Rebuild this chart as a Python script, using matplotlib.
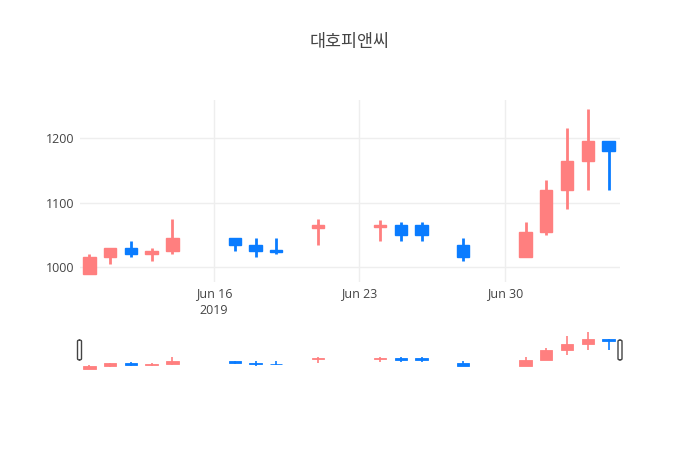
import numpy as np
import matplotlib
matplotlib.use("Agg")
import matplotlib.pyplot as plt
import matplotlib.dates as mdates
from matplotlib.patches import FancyBboxPatch

plt.rcParams["font.family"] = ["Open Sans", "Noto Sans CJK KR", "DejaVu Sans"]

# daily prices
dates = ["2019-06-10", "2019-06-11", "2019-06-12", "2019-06-13", "2019-06-14",
         "2019-06-17", "2019-06-18", "2019-06-19", "2019-06-21",
         "2019-06-24", "2019-06-25", "2019-06-26", "2019-06-28",
         "2019-07-01", "2019-07-02", "2019-07-03", "2019-07-04", "2019-07-05"]
opens  = [990, 1015, 1030, 1020, 1025, 1045, 1035, 1026, 1060,
          1062, 1065, 1065, 1035, 1015, 1055, 1120, 1165, 1195]
highs  = [1020, 1030, 1040, 1030, 1075, 1045, 1045, 1045, 1075,
          1073, 1070, 1070, 1045, 1070, 1135, 1215, 1245, 1195]
lows   = [990, 1005, 1015, 1010, 1020, 1025, 1015, 1021, 1035,
          1040, 1040, 1040, 1010, 1015, 1050, 1090, 1120, 1120]
closes = [1015, 1030, 1020, 1025, 1045, 1035, 1025, 1023, 1066,
          1066, 1050, 1050, 1015, 1055, 1120, 1165, 1195, 1180]

UP = "#FF7F7F"
DOWN = "#0A7CFF"
TXT = "#444444"

x = mdates.date2num(np.array(dates, dtype="datetime64[D]"))
o = np.array(opens); h = np.array(highs); l = np.array(lows); c = np.array(closes)
colors = [UP if cc >= oo else DOWN for oo, cc in zip(o, c)]
bottoms = np.minimum(o, c)
heights = np.maximum(np.abs(c - o), 1.5)

fig = plt.figure(figsize=(7, 4.5), dpi=100)
W, H = 700, 450
ax = fig.add_axes([80 / W, 1 - 282 / H, 540 / W, 182 / H])
sl = fig.add_axes([80 / W, 1 - 370 / H, 540 / W, 39 / H])

xmin, xmax = x[0] - 0.45, x[-1] + 0.55


def draw(a, lw):
    a.vlines(x, l, h, colors=colors, linewidth=lw, zorder=2)
    a.bar(x, heights, bottom=bottoms, width=0.6, color=colors,
          edgecolor=colors, linewidth=lw * 0.5, zorder=3)


draw(ax, 2)
ax.set_xlim(xmin, xmax)
ax.set_ylim(977, 1259)
ax.set_yticks([1000, 1100, 1200])
ax.set_yticklabels(["1000", "1100", "1200"])
ticks = mdates.date2num(np.array(["2019-06-16", "2019-06-23", "2019-06-30"],
                                 dtype="datetime64[D]"))
ax.set_xticks(ticks)
ax.set_xticklabels(["Jun 16\n2019", "Jun 23", "Jun 30"])
ax.grid(True, color="#EEEEEE", linewidth=1, zorder=0)
ax.set_axisbelow(True)
for s in ax.spines.values():
    s.set_visible(False)
ax.tick_params(length=0, labelsize=9, colors=TXT, pad=4)
for t in ax.get_xticklabels():
    t.set_linespacing(1.3)

draw(sl, 1.2)
sl.set_xlim(xmin, xmax)
sl.set_ylim(985, 1250)
sl.axis("off")

for hx in (79.5, 620):
    fig.patches.append(FancyBboxPatch(((hx - 2) / W, 1 - 360 / H), 4 / W, 20 / H,
                                      boxstyle="round,pad=0,rounding_size=0.003",
                                      transform=fig.transFigure,
                                      facecolor="white", edgecolor=TXT,
                                      linewidth=1))

fig.text(350 / W, 1 - 43 / H, "대호피앤씨", ha="center", va="center",
         fontsize=12.5, color=TXT)

fig.savefig("out.png", dpi=100)
